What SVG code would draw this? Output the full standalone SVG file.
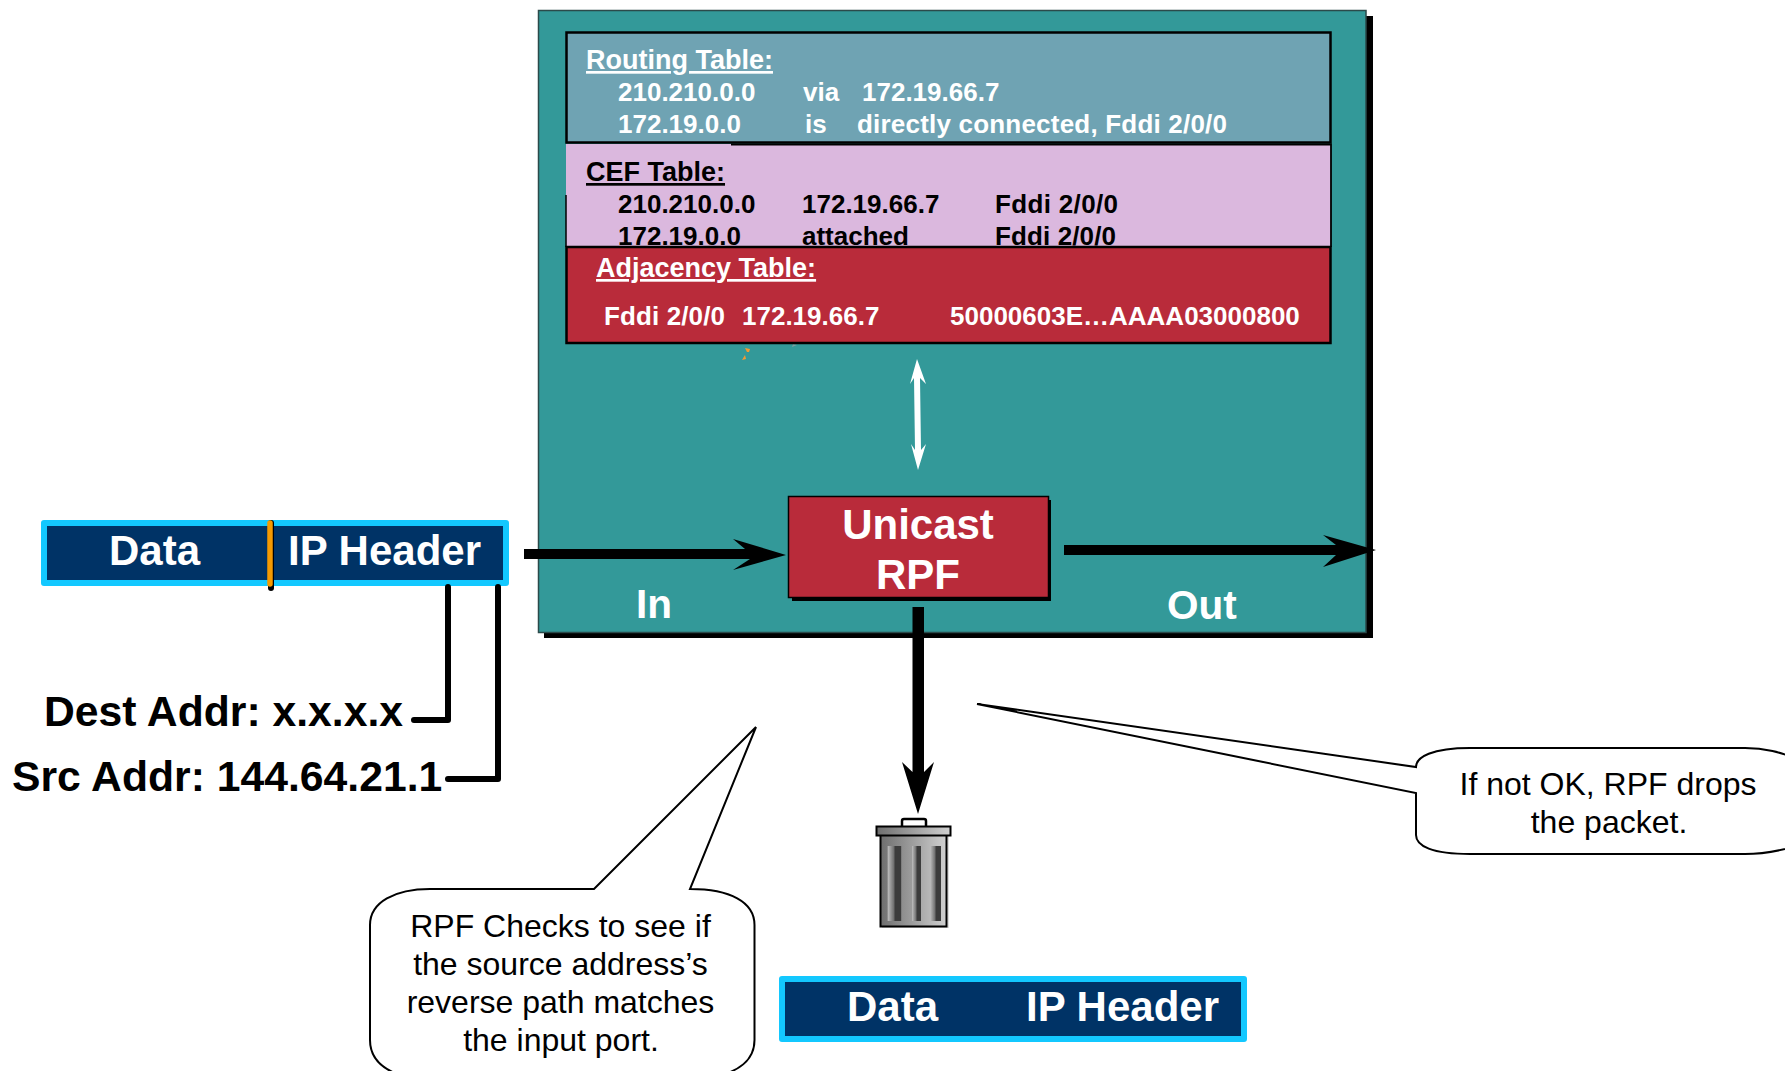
<svg xmlns="http://www.w3.org/2000/svg" width="1785" height="1071" viewBox="0 0 1785 1071">
<style>
text{font-family:"Liberation Sans",Arial,sans-serif}
.t{font-size:26px;font-weight:700}
.h{font-size:27px;font-weight:700;text-decoration:underline}
.w{fill:#fff}
.k{fill:#000}
.big{font-size:42px;font-weight:700}
.addr{font-size:42.700px;font-weight:700;fill:#000}
.port{font-size:40.500px;font-weight:700;fill:#fff}
.call{font-size:32px;fill:#000;text-anchor:middle}
.bubble{fill:#fff;stroke:#000;stroke-width:2}
.pkt{fill:#003366;stroke:#13c8ff;stroke-width:6;stroke-linejoin:round}
.wire{fill:none;stroke:#000;stroke-width:6;stroke-linecap:round;stroke-linejoin:round}
</style>
<defs>
<linearGradient id="can" x1="0" x2="1" y1="0" y2="0"><stop offset="0" stop-color="#6e6e6e"/><stop offset="1" stop-color="#d0d0d0"/></linearGradient>
<linearGradient id="slot" x1="0" x2="1" y1="0" y2="0"><stop offset="0" stop-color="#c0c0c0"/><stop offset=".45" stop-color="#707070"/><stop offset=".55" stop-color="#3c3c3c"/><stop offset="1" stop-color="#3c3c3c"/></linearGradient>
</defs>
<g id="router">
<rect x="544" y="16" width="829" height="622" fill="#000"/>
<rect x="538.500" y="10.500" width="827.500" height="622" fill="#339999" stroke="#2b4a4a" stroke-width="1.500"/>
<text class="port" x="636" y="618">In</text>
<text class="port" x="1167" y="619">Out</text>
<path d="M745 348L750 349L749 352L747 352Z" fill="#f59a30"/>
<path d="M745 355L746 359L742 360Z" fill="#f59a30"/>
<path d="M792 347L793 344L797 345Z" fill="#7fa0a0"/>
</g>
<g id="routing-table">
<rect x="566.500" y="32.500" width="764" height="110" fill="#6fa3b3" stroke="#000" stroke-width="2.500"/>
<text class="h w" x="586" y="69">Routing Table:</text>
<text class="t w" x="618" y="101">210.210.0.0</text>
<text class="t w" x="803" y="101">via</text>
<text class="t w" x="862" y="101">172.19.66.7</text>
<text class="t w" x="618" y="133">172.19.0.0</text>
<text class="t w" x="805" y="133">is</text>
<text class="t w" x="857" y="133" textLength="370">directly connected, Fddi 2/0/0</text>
</g>
<g id="cef-table">
<rect x="566" y="144" width="765" height="103" fill="#dbb8de"/>
<path d="M731 144.500H1331V247" fill="none" stroke="#000" stroke-width="1.800"/>
<path d="M566 195V247" fill="none" stroke="#000" stroke-width="1.500"/>
<text class="h k" x="586" y="181">CEF Table:</text>
<text class="t k" x="618" y="213">210.210.0.0</text>
<text class="t k" x="802" y="213">172.19.66.7</text>
<text class="t k" x="995" y="213" textLength="123">Fddi 2/0/0</text>
<text class="t k" x="618" y="245">172.19.0.0</text>
<text class="t k" x="802" y="245">attached</text>
<text class="t k" x="995" y="245" textLength="121">Fddi 2/0/0</text>
</g>
<g id="adjacency-table">
<rect x="566.500" y="247" width="764" height="96" fill="#b92b3a" stroke="#000" stroke-width="2.500"/>
<text class="h w" x="596" y="277">Adjacency Table:</text>
<text class="t w" x="604" y="325" textLength="121">Fddi 2/0/0</text>
<text class="t w" x="742" y="325">172.19.66.7</text>
<text class="t w" x="950" y="325">50000603E…AAAA03000800</text>
</g>
<g id="unicast-rpf">
<rect x="792" y="500" width="259" height="101" fill="#000"/>
<rect x="788.500" y="496.500" width="260" height="101" fill="#b92b3a" stroke="#000" stroke-width="1.500"/>
<text class="big w" x="918" y="539" text-anchor="middle">Unicast</text>
<text class="big w" x="918" y="589" text-anchor="middle">RPF</text>
</g>
<g id="packet-in">
<rect x="44" y="523" width="462" height="60" class="pkt"/>
<text class="big w" x="109" y="565">Data</text>
<text class="big w" x="288" y="565">IP Header</text>
<path d="M271 523V588" stroke="#000" stroke-width="6" stroke-linecap="round"/>
<path d="M270 523V584" stroke="#f59a00" stroke-width="5.500" stroke-linecap="round"/>
</g>
<g id="dest-addr"><text class="addr" x="44" y="726">Dest Addr: x.x.x.x</text></g>
<g id="src-addr"><text class="addr" x="12" y="791">Src Addr: 144.64.21.1</text></g>
<g id="connectors">
<path class="wire" d="M448 587V720H414"/>
<path class="wire" d="M498 587V779H448"/>
<path d="M524 549H745L733 539L786 555L733 570L750 559H524Z" fill="#000"/>
<path d="M1064 545H1336L1323 535L1376 550L1323 567L1336 555H1064Z" fill="#000"/>
<path d="M912.500 607H924V772L934 762L918 814L902 762L912.500 772Z" fill="#000"/>
<path d="M917 359L926 384L920 378L921 450L926 444L918 470L911 444L915 450L914 378L910 384Z" fill="#fff"/>
</g>
<g id="trash">
<rect x="902" y="819" width="24" height="9" rx="2" fill="#fff" stroke="#000" stroke-width="2.500"/>
<rect x="882" y="836" width="67" height="92" fill="#ddd"/>
<rect x="880.500" y="834" width="66" height="92.500" fill="url(#can)" stroke="#000" stroke-width="2"/>
<rect x="887.700" y="846" width="13.500" height="75" fill="url(#slot)"/>
<rect x="912" y="846" width="9" height="75" fill="url(#slot)"/>
<rect x="930" y="846" width="11" height="75" fill="url(#slot)"/>
<rect x="876.500" y="826.500" width="74" height="9" fill="url(#can)" stroke="#000" stroke-width="2"/>
</g>
<g id="callout-rpf">
<path class="bubble" d="M756 727L594 889H430C395 889 370 902 370 925V1040C370 1060 385 1072 410 1078H710C740 1072 754.500 1060 754.500 1040V925C754.500 902 730 889 690 889Z"/>
<text class="call" x="560.500" y="937">RPF Checks to see if</text>
<text class="call" x="560.500" y="974.500">the source address’s</text>
<text class="call" x="560.500" y="1013">reverse path matches</text>
<text class="call" x="561" y="1051">the input port.</text>
</g>
<g id="callout-drop">
<path class="bubble" d="M977 704L1416 767C1416 757 1432 748 1470 748H1745C1765 748 1780 752 1800 760V845C1780 851 1765 854 1745 854H1470C1432 854 1416 846 1416 835V793Z"/>
<text class="call" x="1608" y="795">If not OK, RPF drops</text>
<text class="call" x="1609" y="833">the packet.</text>
</g>
<g id="packet-out">
<rect x="782" y="979" width="462" height="60" class="pkt"/>
<text class="big w" x="847" y="1021">Data</text>
<text class="big w" x="1026" y="1021">IP Header</text>
</g>
</svg>
